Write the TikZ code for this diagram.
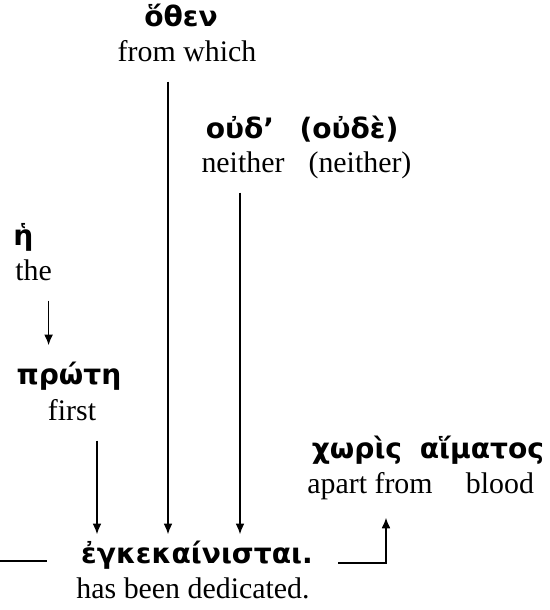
\documentclass[tikz,border=0pt]{standalone}
\usepackage{fontspec}
\setmainfont{Liberation Serif}
\newfontfamily\greekfont[Script=Greek]{DejaVu Sans}
\usepackage{tikz}
\usetikzlibrary{positioning, arrows.meta}

\begin{document}
\begin{tikzpicture}[
  x=0.02cm, y=-0.02cm,
  gk/.style={font=\greekfont\bfseries\fontsize{16}{19}\selectfont,
    inner sep=0pt, anchor=base},
  en/.style={font=\fontsize{17}{20}\selectfont, inner sep=0pt, anchor=base},
  link/.style={-{Latex[length=6pt, width=5pt]}, line width=0.7pt,
    shorten <=0.4cm, shorten >=0.12cm},
  rule/.style={line width=0.7pt},
]
  \useasboundingbox (0,0) rectangle (550,610);

  % words, greek over english
  \node[gk] (othen)    at (181,26)  {ὅθεν};
  \node[en] (othen-en) at (187,61)  {from which};
  \node[gk] (oud)      at (240,138) {οὐδ’};
  \node[en] (oud-en)   at (243,172) {neither};
  \node[gk] (oude)     at (349,138) {(οὐδὲ)};
  \node[en] (oude-en)  at (360,172) {(neither)};
  \node[gk, anchor=base west] (he)    at (13,245) {ἡ};
  \node[en, anchor=base west] (he-en) at (15,280) {the};
  \node[gk] (prote)    at (69,384)  {πρώτη};
  \node[en] (prote-en) at (72,420)  {first};
  \node[gk] (enk)      at (197,563) {ἐγκεκαίνισται.};
  \node[en] (enk-en)   at (193,598) {has been dedicated.};
  \node[gk] (choris)    at (357,458) {χωρὶς};
  \node[en] (choris-en) at (370,493) {apart from};
  \node[gk] (haima)     at (482,458) {αἵματος};
  \node[en] (haima-en)  at (500,493) {blood};

  % arrows into the verb
  \foreach \a/\s in {othen-en/-0.38cm, oud-en/-0.06cm, prote-en/0.5cm}
    \draw[link] ([xshift=\s]\a.south) -- ([xshift=\s]\a.south |- enk.north);
  \draw[link, shorten >=0.32cm] ([xshift=0.3cm]he-en.south)
    -- ([xshift=0.3cm]he-en.south |- prote.north);

  % baseline rules
  \coordinate (lend) at (0,561);
  \draw[rule, shorten >=0.68cm] (lend) -- (lend -| enk.west);
  \draw[link, shorten <=0.5cm, shorten >=0.36cm] (enk.base east)
    -| ([xshift=0.32cm]choris-en.south);
\end{tikzpicture}
\end{document}
